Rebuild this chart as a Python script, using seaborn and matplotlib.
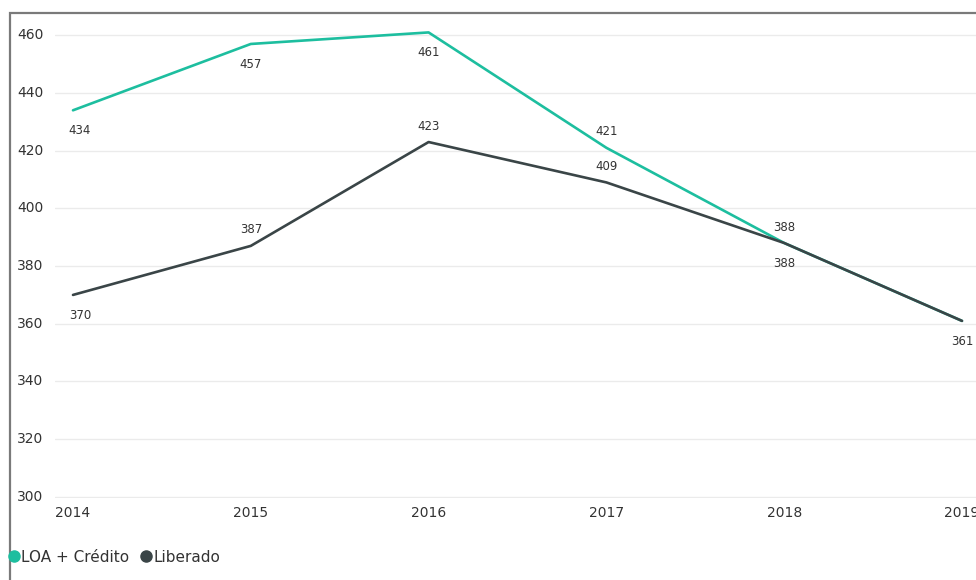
import matplotlib
matplotlib.use("Agg")
import matplotlib.pyplot as plt
from matplotlib.patches import Rectangle
from matplotlib.lines import Line2D
import seaborn as sns
import pandas as pd

years = [2014, 2015, 2016, 2017, 2018, 2019]
loa_credito = [434, 457, 461, 421, 388, 361]
liberado = [370, 387, 423, 409, 388, 361]
series_names = ["LOA + Crédito", "Liberado"]
colors = ["#1DBE9F", "#3A4547"]
y_ticks = [300, 320, 340, 360, 380, 400, 420, 440, 460]

# label placement: +1 above, -1 below, 0 hidden
loa_pos = [-1, -1, -1, 1, 1, 0]
lib_pos = [-1, 1, 1, 1, -1, -1]

df = pd.DataFrame({
    "year": years * 2,
    "value": loa_credito + liberado,
    "series": [series_names[0]] * len(years) + [series_names[1]] * len(years),
})

sns.set_style("white")
plt.rcParams['font.family'] = ['DejaVu Sans']

fig = plt.figure(figsize=(9.76, 5.8), dpi=100)
ax = fig.add_axes([55 / 976, (580 - 498) / 580, (976 - 55) / 976, 480 / 580])

sns.lineplot(data=df, x="year", y="value", hue="series",
             palette=dict(zip(series_names, colors)), linewidth=1.9,
             legend=False, ax=ax, sort=False)

ax.set_ylim(299.6, 466)
ax.set_xlim(2014 - 18 / 177.8, 2019 + 14 / 177.8)
ax.set_yticks(y_ticks)
ax.set_xticks(years)
ax.set_xticklabels([str(y) for y in years])
ax.set_yticklabels([])
ax.tick_params(axis="both", length=0)
ax.tick_params(axis="x", labelsize=10, labelcolor="#333333", pad=6)
ax.grid(axis="y", color="#EBEBEB", linewidth=1)
ax.grid(axis="x", visible=False)
ax.set_xlabel("")
ax.set_ylabel("")
for s in ax.spines.values():
    s.set_visible(False)

# y tick labels at far left
for v in y_ticks:
    ax.annotate(str(v), xy=(0, v), xycoords=("figure pixels", "data"),
                xytext=(17 * 0.72, 0), textcoords="offset points",
                ha="left", va="center", fontsize=10, color="#333333",
                annotation_clip=False)

def add_labels(vals, pos):
    for i, (x, v, p) in enumerate(zip(years, vals, pos)):
        if p == 0:
            continue
        dx = 7 if i == 0 else 0
        dy = 11.5 if p > 0 else -14.5
        ax.annotate(str(v), xy=(x, v), xytext=(dx * 0.72, dy),
                    textcoords="offset points", ha="center", va="center",
                    fontsize=8.5, color="#333333", annotation_clip=False)

add_labels(loa_credito, loa_pos)
add_labels(liberado, lib_pos)

# border
fig.patches.append(Rectangle((10 / 976, -0.1), 2, (580 - 13) / 580 + 0.1,
                             transform=fig.transFigure, fill=False,
                             edgecolor="#7A7A7A", linewidth=1.6))

handles = [Line2D([], [], marker="o", linestyle="", markersize=8,
                  markerfacecolor=c, markeredgecolor=c) for c in colors]
fig.legend(handles, series_names, loc="center left",
           bbox_to_anchor=(6 / 976, (580 - 557) / 580), ncol=2, frameon=False,
           handletextpad=0.0, columnspacing=0.6, handlelength=1.0,
           fontsize=11, labelcolor="#333333", borderaxespad=0, borderpad=0)

fig.savefig("out.png", dpi=100)
